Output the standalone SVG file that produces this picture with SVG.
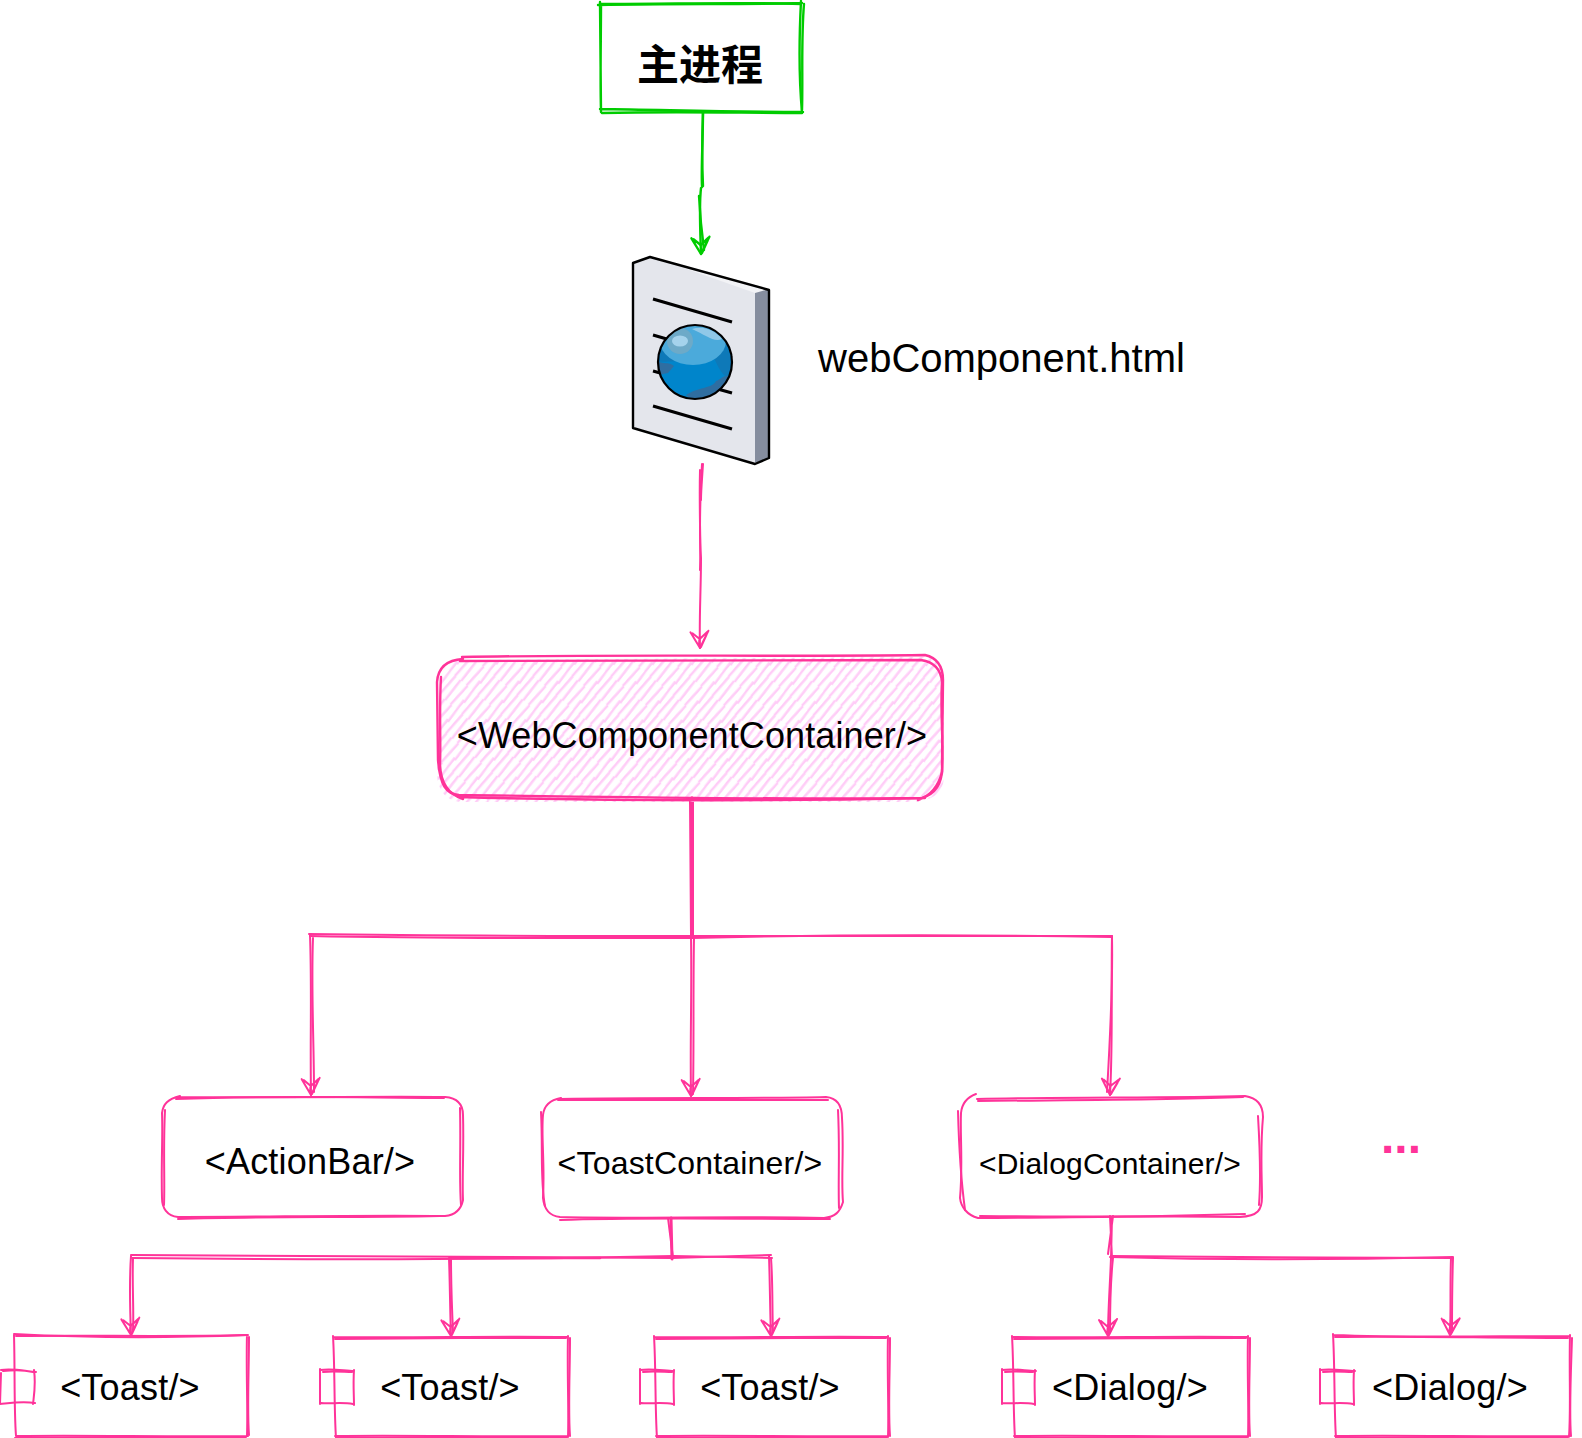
<svg xmlns="http://www.w3.org/2000/svg" width="1582" height="1438" viewBox="0 0 1582 1438">
<style>
.p{fill:none;stroke:#ff3399;stroke-width:2;stroke-linecap:round;stroke-linejoin:round}
.g{fill:none;stroke:#00cc00;stroke-width:2.4;stroke-linecap:round;stroke-linejoin:round}
.t{font-family:"Liberation Sans",Arial,sans-serif;fill:#000;text-anchor:middle;letter-spacing:.2px}
.k{fill:none;stroke:#000;stroke-width:3.2}
.w{fill:#fff;stroke:none}
</style>
<defs>
<marker id="ap" markerUnits="userSpaceOnUse" markerWidth="24" markerHeight="24" refX="19" refY="12" orient="auto" overflow="visible"><path d="M2,3 L19,12 L3,21 M3,4 L10,12 L4,19 M18,11 L6,5 M17,13 L8,12" fill="none" stroke="#ff3399" stroke-width="2" stroke-linecap="round" stroke-linejoin="round"/></marker>
<marker id="ag" markerUnits="userSpaceOnUse" markerWidth="24" markerHeight="24" refX="19" refY="12" orient="auto" overflow="visible"><path d="M2,3 L19,12 L3,21 M3,4 L10,12 L4,19 M18,11 L6,5" fill="none" stroke="#00cc00" stroke-width="2.400" stroke-linecap="round" stroke-linejoin="round"/></marker>
<pattern id="hatch" patternUnits="userSpaceOnUse" width="25" height="30" patternTransform="rotate(-50)">
<path d="M-2,3 L27,3.500 M-2,11 L27,10 M-2,18 L27,19 M-2,26 L12,25.500 M10,27 L27,26" stroke="#ffccf7" stroke-width="2.400" fill="none"/>
</pattern>
<clipPath id="gc"><circle cx="695" cy="361" r="37"/></clipPath>
</defs>
<rect width="1582" height="1438" fill="#fff"/>
<g id="connectors">
<path class="g" marker-end="url(#ag)" d="M703,111 C702,140 702,165 703,186 L701,188 C699,205 700,225 701,254"/>
<path class="g" d="M703,111 C703,140 701,170 702,186 M699,196 C700,215 702,235 704,250"/>
<path class="p" marker-end="url(#ap)" d="M702,464 C700,500 699,530 701,558 C701,590 699,620 700,648"/>
<path class="p" d="M700,470 C699,510 701,540 700,570 M703,464 C702,480 701,490 701,500"/>
<path class="p" style="stroke-width:3.5" d="M692,798 L692,936"/>
<path class="p" d="M690,800 L691,936 M693,800 L693,936"/>
<path class="p" d="M310,936 C450,939 560,938 692,938 C850,934 1000,935 1112,937"/>
<path class="p" d="M309,934 C450,936 570,936 691,936 C850,936 1000,937 1112,936"/>
<path class="p" marker-end="url(#ap)" d="M310,935 C312,990 310,1040 311,1095"/>
<path class="p" d="M313,938 C311,990 314,1040 314,1092"/>
<path class="p" marker-end="url(#ap)" d="M691,936 C692,990 690,1040 691,1096"/>
<path class="p" d="M694,938 C693,990 694,1040 693,1094"/>
<path class="p" marker-end="url(#ap)" d="M1112,936 C1111,990 1113,1040 1110,1095"/>
<path class="p" d="M1112,938 C1113,990 1110,1040 1107,1092"/>
<path class="p" style="stroke-width:3" d="M671,1218 L672,1259"/>
<path class="p" d="M668,1218 L673,1258"/>
<path class="p" d="M131,1255 C320,1256 500,1258 672,1258 L771,1255"/>
<path class="p" d="M132,1258 C320,1260 500,1260 673,1256 L772,1258"/>
<path class="p" d="M450,1258 L600,1258" style="stroke-width:2.6"/>
<path class="p" marker-end="url(#ap)" d="M131,1256 C129,1285 130,1310 131,1335"/>
<path class="p" d="M133,1258 C132,1285 134,1310 133,1330"/>
<path class="p" marker-end="url(#ap)" d="M449,1258 C450,1285 450,1310 451,1336"/>
<path class="p" d="M451,1258 C451,1285 452,1310 453,1332"/>
<path class="p" marker-end="url(#ap)" d="M769,1256 C770,1285 770,1310 771,1336"/>
<path class="p" d="M771,1258 C773,1285 772,1310 773,1332"/>
<path class="p" d="M1112,1218 L1111,1258 M1110,1216 L1112,1258 M1113,1216 L1108,1254"/>
<path class="p" d="M1110,1257 C1220,1260 1340,1260 1453,1257"/>
<path class="p" d="M1111,1256 C1220,1257 1340,1258 1453,1258"/>
<path class="p" marker-end="url(#ap)" d="M1111,1258 C1110,1285 1108,1310 1108,1336"/>
<path class="p" d="M1113,1258 C1110,1285 1110,1310 1110,1332"/>
<path class="p" marker-end="url(#ap)" d="M1451,1258 C1450,1285 1451,1310 1450,1335"/>
<path class="p" d="M1453,1258 C1452,1285 1452,1310 1452,1332"/>
</g>
<g id="main">
<rect class="w" x="601" y="4" width="200" height="107"/>
<path class="g" d="M598,5 C680,3 740,5 802,3 M601,4 C601,40 600,80 601,111 M600,109 C670,110 730,112 803,112 M801,1 C799,40 799,80 802,112 M600,2 L601,112"/>
<path class="g" d="M601,4 C680,4 740,2 801,4 M602,113 C680,111 740,113 802,113 M804,4 C801,40 803,80 802,110"/>
<text class="t" x="700" y="80" font-size="42" font-weight="700" style="font-family:'Liberation Sans','Noto Sans CJK SC',sans-serif;letter-spacing:0">主进程</text>
</g>
<g id="webComponent-html">
<path d="M633,262 L650,256 L769,289 L755,294 Z" fill="#f2f3f6"/>
<path d="M633,262 L650,256 L755,293 L755,463 L633,427 Z" fill="#e4e6ec"/>
<path d="M755,293 L769,289 L769,458 L755,463 Z" fill="#858d9e"/>
<path d="M633,263 L650,257 L769,290 L769,458 L755,464 L633,428 Z" fill="none" stroke="#000" stroke-width="2.400" stroke-linejoin="round"/>
<path class="k" d="M653,299 L732,322 M653,335 L732,358 M653,371 L732,393 M653,406 L732,429"/>
<circle cx="695" cy="362" r="37" fill="#0085cb"/>
<g clip-path="url(#gc)" transform="translate(0,1)">
<path d="M658,361 A37,37 0 0 1 732,361 C732,385 722,378 712,352 C690,362 670,360 658,361 Z" fill="#0e79b8"/>
<ellipse cx="693" cy="340" rx="33" ry="24" fill="#4baadb"/>
<ellipse cx="680" cy="340" rx="13" ry="13" fill="#8fa9b6" opacity=".5"/>
<ellipse cx="680" cy="340" rx="8" ry="5.500" fill="#a5d3ec"/>
<path d="M658,360 C664,364 668,360 674,365 L668,372 L658,374 Z M686,394 C700,385 712,388 716,380 C722,378 724,372 734,376 L730,398 L690,398 Z" fill="#2f6ea1"/>
<path d="M692,328 C704,324 716,330 722,338 C714,342 706,334 692,328 Z" fill="#90c8e8"/>
</g>
<circle cx="695" cy="362" r="37" fill="none" stroke="#000" stroke-width="2.200"/>
<text class="t" x="818" y="372" font-size="40" style="text-anchor:start;letter-spacing:0">webComponent.html</text>
</g>
<g id="WebComponentContainer">
<path fill="url(#hatch)" d="M460,660 L925,657 C938,660 944,668 944,680 L944,775 C944,792 934,800 915,802 L460,802 C445,800 438,790 437,775 L440,680 C442,668 448,662 460,660 Z"/>
<path class="p" style="stroke-width:2.400" d="M462,657 C620,654 780,657 925,655 C938,658 943,668 943,680 L942,765 C943,785 935,794 922,798 C780,800 620,797 459,795 C446,794 440,785 438,760 L437,682 C438,668 446,660 463,659"/>
<path class="p" style="stroke-width:2.400" d="M460,661 C620,660 780,660 921,660 C934,662 941,670 942,682 C940,715 944,745 942,772 C938,788 930,796 918,800 M458,797 C610,801 780,801 925,798 M441,677 C439,710 441,740 440,765 C441,785 450,795 463,799"/>
<text class="t" x="692" y="748" font-size="36" style="letter-spacing:.12px">&lt;WebComponentContainer/&gt;</text>
</g>
<g id="ActionBar">
<path class="p" d="M178,1097 C300,1098 380,1096 445,1097 C458,1098 463,1105 463,1115 C464,1150 462,1180 463,1200 C461,1210 455,1215 445,1216 C350,1215 270,1217 178,1217 C167,1216 162,1208 162,1198 C161,1165 163,1135 162,1113 C163,1104 168,1099 180,1096"/>
<path class="p" d="M176,1099 C280,1095 370,1098 444,1098 M460,1108 C461,1150 459,1180 461,1205 M178,1219 C270,1216 350,1218 440,1216 M165,1110 C163,1150 165,1180 164,1205"/>
<text class="t" x="310" y="1174" font-size="36">&lt;ActionBar/&gt;</text>
</g>
<g id="ToastContainer">
<path class="p" d="M560,1099 C660,1097 750,1099 826,1097 C838,1098 842,1106 842,1118 C844,1150 841,1180 843,1202 C840,1212 835,1217 824,1218 C730,1216 640,1219 560,1217 C549,1216 544,1208 543,1198 C545,1165 541,1135 543,1115 C544,1105 550,1100 561,1098"/>
<path class="p" d="M558,1100 C660,1100 750,1100 828,1100 M838,1110 C840,1150 838,1180 839,1208 M560,1220 C640,1217 730,1219 830,1219 M541,1112 C543,1150 540,1180 545,1206"/>
<text class="t" x="690" y="1174" font-size="32">&lt;ToastContainer/&gt;</text>
</g>
<g id="DialogContainer">
<path class="p" d="M977,1099 C1070,1097 1170,1098 1245,1096 C1258,1098 1263,1106 1263,1117 C1260,1150 1262,1180 1262,1197 C1262,1210 1258,1216 1240,1217 C1150,1215 1060,1218 978,1218 C967,1215 961,1207 960,1198 C963,1165 960,1135 961,1113 C962,1102 968,1097 976,1094"/>
<path class="p" d="M978,1101 C1070,1100 1170,1100 1243,1097 M1258,1116 C1260,1150 1261,1180 1259,1205 M980,1216 C1070,1217 1150,1217 1245,1214 M958,1111 C959,1150 961,1180 965,1210"/>
<text class="t" x="1110" y="1174" font-size="30">&lt;DialogContainer/&gt;</text>
</g>
<g id="ellipsis">
<text class="t" x="1401" y="1153" font-size="48" font-weight="700" style="fill:#ff3399;letter-spacing:0">...</text>
</g>
<g id="Toast-1">
<path class="p" d="M14,1334 C90,1338 170,1338 248,1335 M14,1335 C15,1370 14,1410 16,1436 M247,1335 C246,1370 248,1410 247,1436 M17,1436 C90,1435 170,1437 248,1436"/>
<path class="p" d="M16,1336 C90,1335 170,1337 246,1335 M249,1337 C249,1370 247,1410 249,1435 M15,1438 C90,1437 170,1437 246,1438"/>
<path class="p" d="M1,1370 C12,1368 25,1371 36,1372 M34,1370 C36,1385 34,1395 33,1404 M35,1403 C22,1401 10,1403 0,1404 M1,1373 L0,1404 M3,1371 C12,1370 25,1370 33,1372"/>
<text class="t" x="130" y="1400" font-size="36">&lt;Toast/&gt;</text>
</g>
<g id="Toast-2">
<path class="p" d="M333,1337 C410,1338 490,1336 568,1337 M333,1336 C335,1370 334,1410 336,1438 M568,1336 C567,1370 569,1410 568,1437 M335,1436 C410,1435 490,1437 568,1436"/>
<path class="p" d="M335,1339 C410,1338 490,1338 566,1338 M570,1338 C570,1370 568,1410 570,1436 M337,1438 C410,1437 490,1438 567,1438"/>
<path class="p" d="M320,1370 C332,1368 345,1371 354,1371 M354,1370 C353,1385 354,1395 354,1405 M353,1404 C342,1402 330,1404 321,1403 M320,1369 L320,1404 M323,1372 C332,1371 345,1372 352,1372"/>
<text class="t" x="450" y="1400" font-size="36">&lt;Toast/&gt;</text>
</g>
<g id="Toast-3">
<path class="p" d="M654,1337 C730,1338 810,1336 888,1337 M654,1336 C656,1370 655,1410 657,1438 M888,1336 C887,1370 889,1410 888,1437 M656,1436 C730,1435 810,1437 888,1436"/>
<path class="p" d="M656,1339 C730,1338 810,1338 886,1338 M890,1338 C890,1370 888,1410 890,1436 M658,1438 C730,1437 810,1438 887,1438"/>
<path class="p" d="M640,1370 C652,1368 665,1371 674,1371 M674,1370 C673,1385 674,1395 674,1405 M673,1404 C662,1402 650,1404 641,1403 M640,1369 L640,1404 M643,1372 C652,1371 665,1372 672,1372"/>
<text class="t" x="770" y="1400" font-size="36">&lt;Toast/&gt;</text>
</g>
<g id="Dialog-1">
<path class="p" d="M1012,1337 C1090,1338 1170,1336 1248,1337 M1012,1336 C1014,1370 1013,1410 1015,1438 M1248,1336 C1247,1370 1249,1410 1248,1437 M1014,1436 C1090,1435 1170,1437 1248,1436"/>
<path class="p" d="M1014,1339 C1090,1338 1170,1338 1246,1338 M1250,1338 C1250,1370 1248,1410 1250,1436 M1016,1438 C1090,1437 1170,1438 1247,1438"/>
<path class="p" d="M1002,1370 C1014,1368 1026,1371 1036,1371 M1035,1370 C1034,1385 1035,1395 1035,1405 M1034,1404 C1023,1402 1011,1404 1002,1403 M1002,1369 L1002,1404 M1005,1372 C1014,1371 1026,1372 1033,1372"/>
<text class="t" x="1130" y="1400" font-size="36">&lt;Dialog/&gt;</text>
</g>
<g id="Dialog-2">
<path class="p" d="M1333,1335 C1410,1338 1490,1336 1570,1336 M1333,1334 C1335,1370 1334,1410 1336,1438 M1570,1335 C1569,1370 1571,1410 1569,1437 M1335,1436 C1410,1435 1490,1437 1570,1436"/>
<path class="p" d="M1335,1337 C1410,1336 1490,1338 1568,1338 M1572,1338 C1571,1370 1569,1410 1571,1436 M1337,1438 C1410,1437 1490,1438 1568,1438"/>
<path class="p" d="M1320,1370 C1332,1368 1345,1371 1355,1371 M1354,1370 C1353,1385 1354,1395 1354,1405 M1353,1404 C1342,1402 1330,1404 1321,1403 M1320,1369 L1320,1404 M1323,1372 C1332,1371 1345,1372 1352,1372"/>
<text class="t" x="1450" y="1400" font-size="36">&lt;Dialog/&gt;</text>
</g>
</svg>
